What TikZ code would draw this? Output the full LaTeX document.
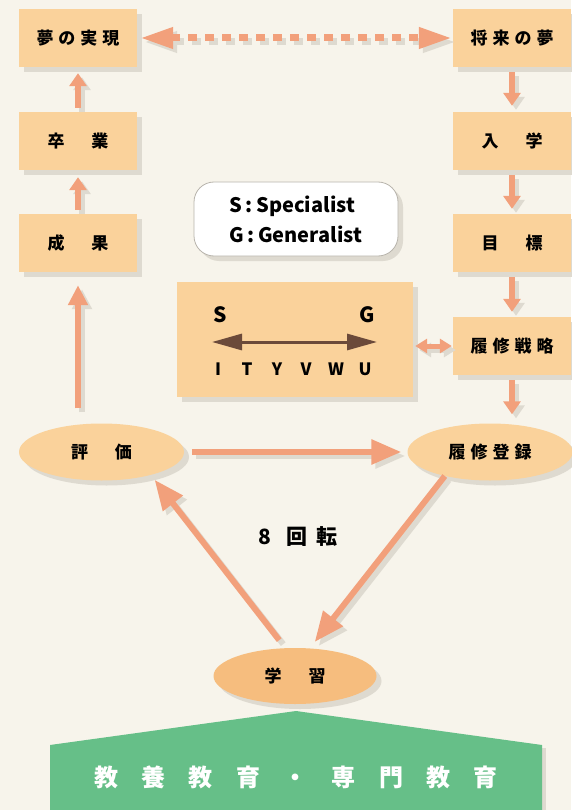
\documentclass[tikz,border=0pt]{standalone}
\usepackage{fontspec}
\setmainfont{Noto Sans CJK JP}
\usetikzlibrary{arrows.meta,shadows,shapes.geometric}
\definecolor{bgc}{HTML}{F7F4EB}
\definecolor{boxc}{HTML}{FAD29B}
\definecolor{lrn}{HTML}{F6BD7E}
\definecolor{arc}{HTML}{F2A07B}
\definecolor{shc}{HTML}{DEDAD0}
\definecolor{grn}{HTML}{66BF88}
\definecolor{brn}{HTML}{6B4A3A}
\definecolor{legb}{HTML}{B8B4AC}
\newcommand\gapA{\kern5pt}
\newcommand\gapB{\kern27pt}
\newcommand\gapC{\kern23.5pt}
\newcommand\sharrow[3]{\draw[#1, draw=shc, transform canvas={xshift=4pt,yshift=-4pt}] #2 -- #3; \draw[#1] #2 -- #3;}
\tikzset{
 shad/.style={drop shadow={shadow xshift=5pt,shadow yshift=-5pt,fill=shc,opacity=1}},
 pbox/.style={fill=boxc, minimum width=118pt, minimum height=58pt, inner sep=0pt, font=\fontsize{17}{17}\selectfont\bfseries, shad},
 pell/.style={ellipse, fill=boxc, minimum width=165pt, minimum height=57pt, inner sep=0pt, font=\fontsize{17}{17}\selectfont\bfseries, shad},
 legend/.style={draw=legb, line width=0.8pt, fill=white, rounded corners=20pt, minimum width=204pt, minimum height=74pt, align=left, font=\fontsize{20}{30}\selectfont\bfseries, shad},
 sgl/.style={font=\fontsize{21}{21}\selectfont\bfseries, inner sep=0pt},
 sgs/.style={font=\fontsize{17}{17}\selectfont\bfseries, inner sep=0pt},
 conn/.style={draw=arc, line width=6pt},
 smallhead/.style={conn, -{Triangle[width=17pt,length=13pt]}},
 midhead/.style={conn, -{Triangle[width=19pt,length=20pt]}},
 bighead/.style={conn, -{Triangle[width=24pt,length=30pt]}},
}
\begin{document}
\begin{tikzpicture}[x=1pt,y=-1pt]
\fill[bgc] (0,0) rectangle (571,810);
\useasboundingbox (0,0) rectangle (571,810);

% boxes
\node[pbox] (yume) at (78,38) {夢\gapA の\gapA 実\gapA 現};
\node[pbox] (shourai) at (512,38) {将\gapA 来\gapA の\gapA 夢};
\node[pbox] (sotsu) at (78,141) {卒\gapB 業};
\node[pbox] (seika) at (78,243) {成\gapB 果};
\node[pbox] (nyu) at (512,141) {入\gapB 学};
\node[pbox] (moku) at (512,243) {目\gapB 標};
\node[pbox] (senr) at (512,346) {履\gapA 修\gapA 戦\gapA 略};
\node[pbox, minimum width=236pt, minimum height=115pt] (sg) at (295,339.5) {};
\node[legend] (leg) at (296,219) {S\,:\,Specialist\\G\,:\,Generalist};

% ellipses
\node[pell] (hyoka) at (101.5,452) {評\gapB 価};
\node[pell] (rishu) at (490,452) {履\gapA 修\gapA 登\gapA 録};
\node[pell, fill=lrn, minimum width=163pt, minimum height=56pt] (gaku) at (295,676) {学\gapB 習};

% green base
\fill[shc] (541,748) rectangle (546,810);
\fill[grn] (50,745) -- (296,711) -- (542,745) -- (542,810) -- (50,810) -- cycle;
\node[text=white, font=\fontsize{24}{24}\selectfont\bfseries] (kyoiku) at (296,777) {教\gapC 養\gapC 教\gapC 育\gapC ・\gapC 専\gapC 門\gapC 教\gapC 育};

% cycle label
\node[font=\fontsize{21}{21}\selectfont\bfseries] (kaiten) at (298,537) {8\kern15pt 回\kern9pt 転};

% S-G scale
\node[sgl] (S) at (220,315) {S};
\node[sgl] (G) at (367,315) {G};
\coordinate (bl) at (212,342);
\coordinate (br) at (377,342);
\draw[brn, line width=3pt, {Triangle[width=16pt,length=30pt]}-{Triangle[width=16pt,length=30pt]}] (bl) -- (br);
\foreach \l/\x in {I/218,T/247,Y/277,V/306,W/336,U/365}
  \node[sgs] (l\l) at (\x,369) {\l};

% connectors
\sharrow{conn, line width=7pt, dash pattern=on 9pt off 8pt, {Triangle[width=20pt,length=33pt]}-{Triangle[width=20pt,length=33pt]}, shorten <=3pt, shorten >=1pt}{(yume.east)}{(shourai.west)}
\sharrow{smallhead, shorten <=5pt, shorten >=6pt}{(shourai.south)}{(nyu.north)}
\sharrow{smallhead, shorten <=5pt, shorten >=5pt}{(nyu.south)}{(moku.north)}
\sharrow{smallhead, shorten <=5pt, shorten >=5pt}{(moku.south)}{(senr.north)}
\sharrow{smallhead, shorten <=5pt, shorten >=9pt}{(senr.south)}{(senr.south |- rishu.north)}
\sharrow{smallhead, shorten <=4pt, shorten >=7pt}{(seika.north)}{(sotsu.south)}
\sharrow{smallhead, shorten <=4pt, shorten >=6pt}{(sotsu.north)}{(yume.south)}
\sharrow{midhead, shorten <=15pt, shorten >=13pt}{(seika.south |- hyoka.north)}{(seika.south)}
\sharrow{bighead, shorten <=8pt, shorten >=6pt}{(hyoka.east)}{(rishu.west)}
\sharrow{bighead, shorten <=0pt, shorten >=8pt}{(rishu.-152)}{(gaku.62)}
\sharrow{bighead, shorten <=10pt, shorten >=6pt}{(gaku.109)}{(hyoka.-25)}
\sharrow{conn, line width=5pt, {Triangle[width=14pt,length=12pt]}-{Triangle[width=14pt,length=12pt]}, shorten <=2pt, shorten >=1pt}{(senr.west -| sg.east)}{(senr.west)}
\end{tikzpicture}
\end{document}
